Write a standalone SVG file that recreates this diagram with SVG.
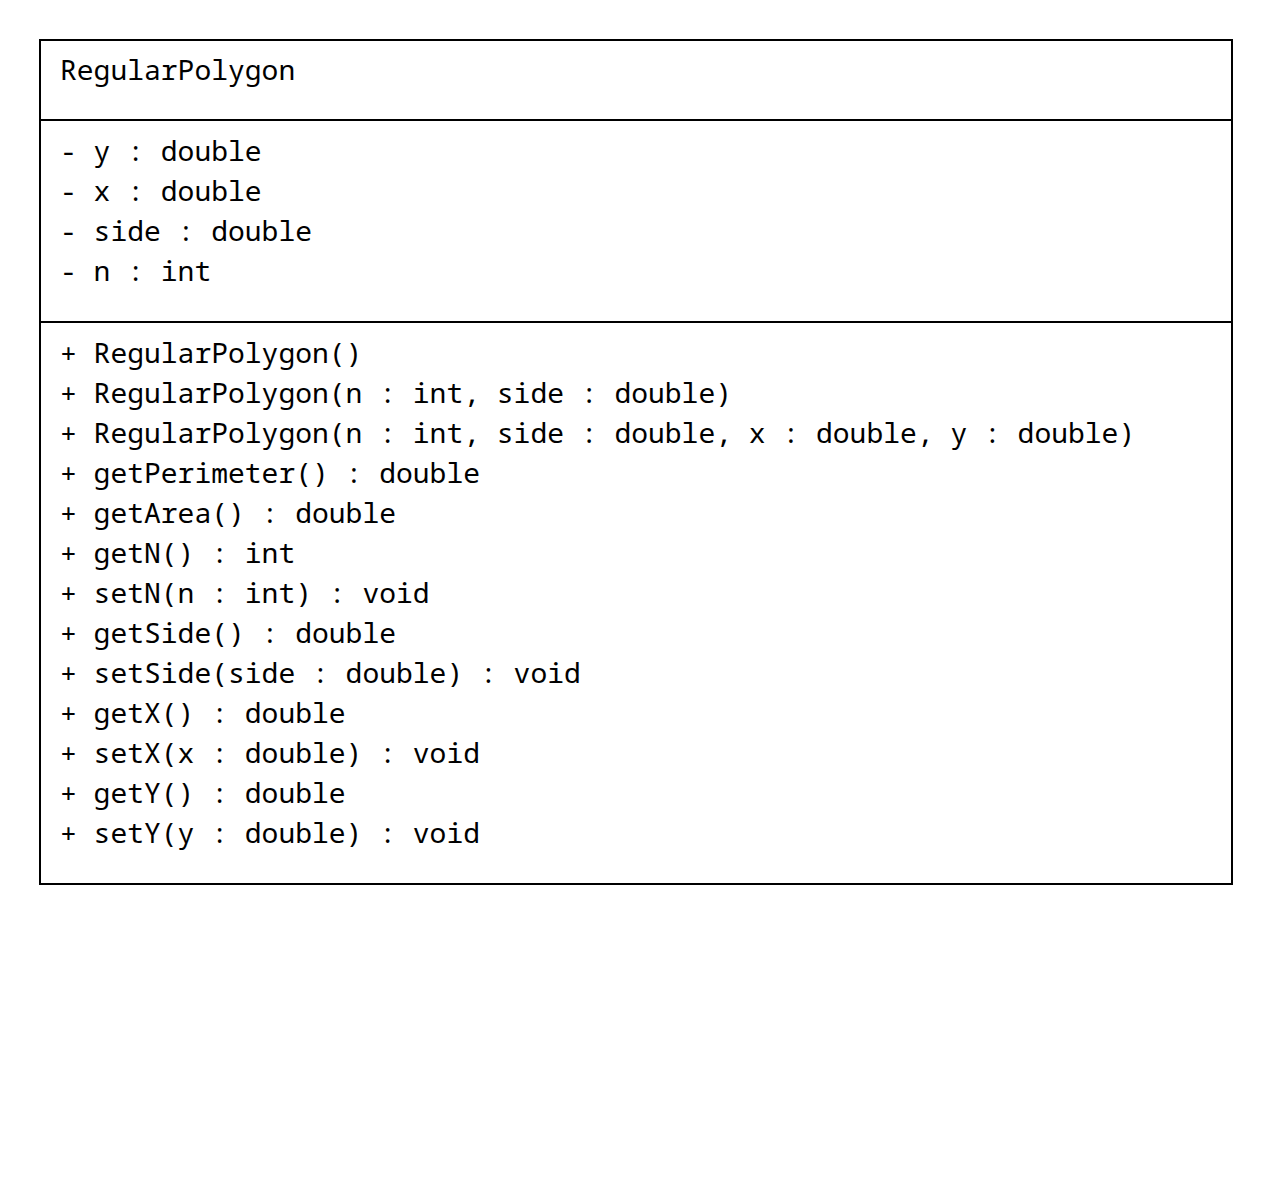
<svg xmlns="http://www.w3.org/2000/svg" width="1272" height="1204" viewBox="0 0 1272 1204">
<style>
.t{font-family:"Noto Sans Mono","DejaVu Sans Mono","Liberation Mono",monospace;font-size:28px;fill:#000}
.b{fill:#fff;stroke:#000;stroke-width:2}
.l{stroke:#000;stroke-width:2}
</style>
<rect width="1272" height="1204" fill="#fff"/>
<g id="RegularPolygon">
<rect class="b" x="40" y="40" width="1192" height="844"/>
<line class="l" x1="40" y1="120" x2="1232" y2="120"/>
<line class="l" x1="40" y1="322" x2="1232" y2="322"/>
<text class="t" x="60" y="80">RegularPolygon</text>
<text class="t" x="60" y="161">- y : double</text>
<text class="t" x="60" y="201">- x : double</text>
<text class="t" x="60" y="241">- side : double</text>
<text class="t" x="60" y="281">- n : int</text>
<text class="t" x="60" y="363">+ RegularPolygon()</text>
<text class="t" x="60" y="403">+ RegularPolygon(n : int, side : double)</text>
<text class="t" x="60" y="443">+ RegularPolygon(n : int, side : double, x : double, y : double)</text>
<text class="t" x="60" y="483">+ getPerimeter() : double</text>
<text class="t" x="60" y="523">+ getArea() : double</text>
<text class="t" x="60" y="563">+ getN() : int</text>
<text class="t" x="60" y="603">+ setN(n : int) : void</text>
<text class="t" x="60" y="643">+ getSide() : double</text>
<text class="t" x="60" y="683">+ setSide(side : double) : void</text>
<text class="t" x="60" y="723">+ getX() : double</text>
<text class="t" x="60" y="763">+ setX(x : double) : void</text>
<text class="t" x="60" y="803">+ getY() : double</text>
<text class="t" x="60" y="843">+ setY(y : double) : void</text>
</g>
<g id="connectors"></g>
</svg>
